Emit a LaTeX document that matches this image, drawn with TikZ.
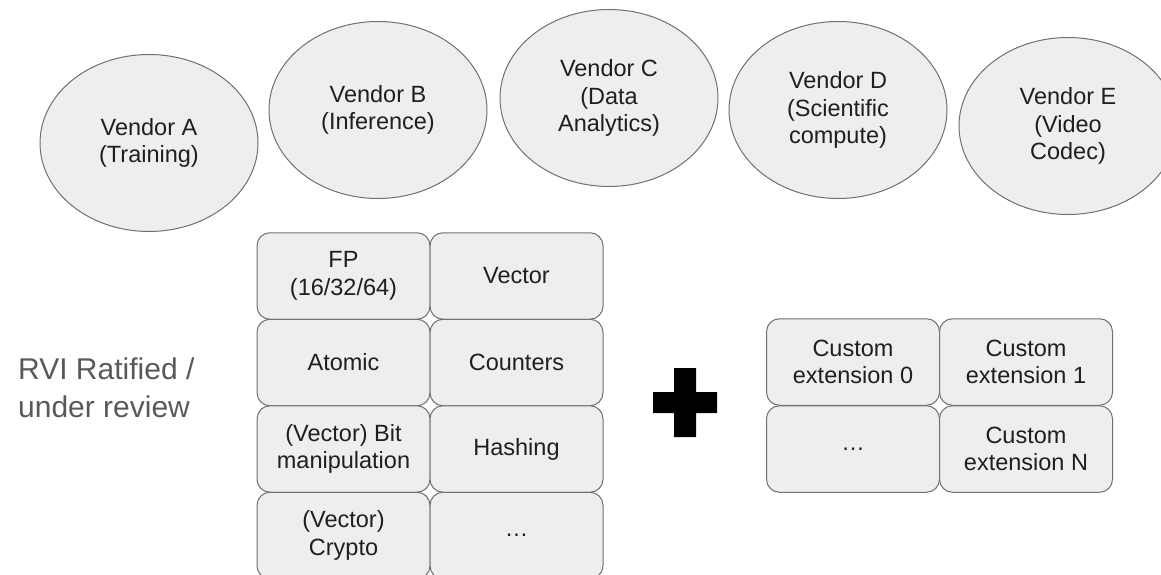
\documentclass[tikz,border=0pt]{standalone}
\usepackage{fontspec}
\setmainfont{Liberation Sans}
\usetikzlibrary{shapes.geometric}
\definecolor{shapefill}{HTML}{EEEEEE}
\definecolor{shapeedge}{HTML}{707070}
\definecolor{labeltext}{HTML}{1F1F1F}
\definecolor{sidetext}{HTML}{595959}
\tikzset{
  vendor/.style={ellipse, draw=shapeedge, fill=shapefill, line width=1pt,
    minimum width=218pt, minimum height=177pt, inner sep=0pt,
    align=center, text=labeltext, font=\fontsize{23.5}{27.5}\selectfont},
  extbox/.style={rectangle, rounded corners=13pt, draw=shapeedge, fill=shapefill,
    line width=1pt, minimum width=173pt, minimum height=86.5pt, inner sep=0pt,
    align=center, text=labeltext, font=\fontsize{23.5}{27.5}\selectfont},
  sidelabel/.style={align=left, text=sidetext, inner sep=0pt,
    font=\fontsize{30}{38}\selectfont}
}
\begin{document}
\begin{tikzpicture}[x=1pt, y=-1pt]
\useasboundingbox (0,0) rectangle (1161,575);
\clip (0,0) rectangle (1161,575);

% vendors
\node[vendor] (va) at (149,143) {Vendor A\\(Training)};
\node[vendor] (vb) at (378,110) {Vendor B\\(Inference)};
\node[vendor] (vc) at (609,98)  {Vendor C\\(Data\\Analytics)};
\node[vendor] (vd) at (838,110) {Vendor D\\(Scientific\\compute)};
\node[vendor] (ve) at (1068,126) {Vendor E\\(Video\\Codec)};

% ratified / under review extensions
\node[extbox] (fp)   at (343.5,276)   {FP\\(16/32/64)};
\node[extbox] (vec)  at (516.5,276)   {Vector};
\node[extbox] (atom) at (343.5,362.5) {Atomic};
\node[extbox] (cnt)  at (516.5,362.5) {Counters};
\node[extbox] (bit)  at (343.5,449)   {(Vector) Bit\\manipulation};
\node[extbox] (hash) at (516.5,449)   {Hashing};
\node[extbox] (cry)  at (343.5,535.5) {(Vector)\\Crypto};
\node[extbox] (more) at (516.5,535.5) {\ldots};

\node[sidelabel, anchor=base west] (rvi) at (18,417) {RVI Ratified /\\under review};

% plus sign
\fill[black] (674,368) -- (696,368) -- (696,392) -- (717,392) -- (717,413)
  -- (696,413) -- (696,437) -- (674,437) -- (674,413) -- (653,413)
  -- (653,392) -- (674,392) -- cycle;

% custom extensions
\node[extbox] (c0)  at (853,362)  {Custom\\extension 0};
\node[extbox] (c1)  at (1026,362) {Custom\\extension 1};
\node[extbox] (cx)  at (853,449)  {\ldots};
\node[extbox] (cn)  at (1026,449) {Custom\\extension N};
\end{tikzpicture}
\end{document}
